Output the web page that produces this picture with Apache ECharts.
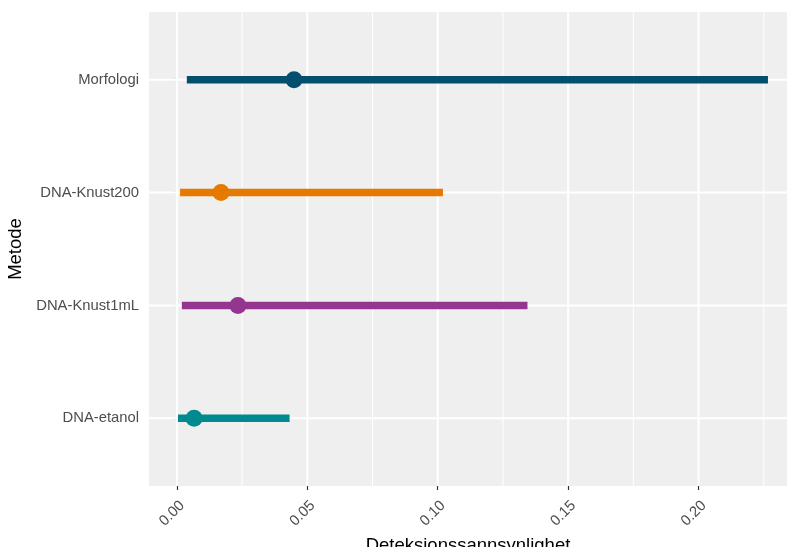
<!DOCTYPE html>
<html>
<head>
<meta charset="utf-8">
<title>Deteksjonssannsynlighet per metode</title>
<script src="https://cdn.jsdelivr.net/npm/echarts@6/dist/echarts.min.js"></script>
<style>
  html, body { margin: 0; padding: 0; background: #ffffff; }
  #chart { width: 789px; height: 547px; }
</style>
</head>
<body>
<div id="chart"></div>
<script>
// Methods, bottom to top on the y axis (positions 1..4)
const methods = ['DNA-etanol', 'DNA-Knust1mL', 'DNA-Knust200', 'Morfologi'];
// Point estimate and interval bounds of detection probability
const estimate = [0.0066, 0.0234, 0.0169, 0.0449];
const lower = [0.0004, 0.0019, 0.0012, 0.0038];
const upper = [0.0432, 0.1344, 0.1020, 0.2266];
const methodColors = ['#00898F', '#94358F', '#E67A00', '#024F70'];
// Axis ticks
const xMajor = [0, 0.05, 0.10, 0.15, 0.20];
const xMinor = [0.025, 0.075, 0.125, 0.175, 0.225];
const yTicks = [1, 2, 3, 4];

const FONT = '"Liberation Sans", Arial, Helvetica, sans-serif';

// [value, lineWidth] for the white panel grid
const vGrid = xMinor.map(v => [v, 1]).concat(xMajor.map(v => [v, 2]));
const hGrid = yTicks.map(v => [v, 2]);

const chart = echarts.init(document.getElementById('chart'), null, { renderer: 'canvas' });

function gridLineSeries(data, vertical) {
  return {
    type: 'custom',
    z: 1,
    silent: true,
    clip: true,
    encode: vertical ? { x: 0 } : { y: 0 },
    data: data,
    renderItem: function (params, api) {
      const cs = params.coordSys;
      const v = api.value(0);
      const w = api.value(1);
      let shape;
      if (vertical) {
        const x = api.coord([v, 2.5])[0];
        shape = { x1: x, y1: cs.y, x2: x, y2: cs.y + cs.height };
      } else {
        const y = api.coord([0.1, v])[1];
        shape = { x1: cs.x, y1: y, x2: cs.x + cs.width, y2: y };
      }
      return { type: 'line', shape: shape, style: { stroke: '#FFFFFF', lineWidth: w } };
    }
  };
}

chart.setOption({
  animation: false,
  backgroundColor: '#ffffff',
  textStyle: { fontFamily: FONT },
  grid: {
    left: 149, right: 2, top: 12, bottom: 61,
    outerBoundsMode: 'none',
    containLabel: false,
    show: true, backgroundColor: '#EFEFEF', borderWidth: 0
  },
  xAxis: {
    type: 'value',
    min: -0.0107,
    max: 0.2339,
    name: 'Deteksjonssannsynlighet',
    nameLocation: 'middle',
    nameGap: 46,
    nameTextStyle: { fontSize: 18.5, color: '#000000', fontFamily: FONT },
    axisLine: { show: false },
    axisTick: {
      show: true, length: 4, customValues: xMajor,
      lineStyle: { color: '#333333', width: 1.2 }
    },
    axisLabel: {
      customValues: xMajor,
      rotate: 45,
      margin: 12,
      align: 'right',
      verticalAlign: 'top',
      fontSize: 14.8,
      color: '#4D4D4D',
      fontFamily: FONT,
      formatter: v => v.toFixed(2)
    },
    splitLine: { show: false }
  },
  yAxis: {
    type: 'value',
    min: 0.4,
    max: 4.6,
    name: 'Metode',
    nameLocation: 'middle',
    nameGap: 121,
    nameTextStyle: { fontSize: 18.5, color: '#000000', fontFamily: FONT },
    axisLine: { show: false },
    axisTick: {
      show: true, length: 4, customValues: yTicks,
      lineStyle: { color: '#333333', width: 1.2 }
    },
    axisLabel: {
      customValues: yTicks,
      margin: 10,
      fontSize: 14.8,
      color: '#4D4D4D',
      fontFamily: FONT,
      formatter: v => methods[Math.round(v) - 1] || ''
    },
    splitLine: { show: false }
  },
  series: [
    gridLineSeries(vGrid, true),
    gridLineSeries(hGrid, false),
    {
      // interval bars
      type: 'custom',
      z: 2,
      silent: true,
      encode: { x: [0, 1], y: 2 },
      data: methods.map((m, i) => [lower[i], upper[i], i + 1]),
      renderItem: function (params, api) {
        const a = api.coord([api.value(0), api.value(2)]);
        const b = api.coord([api.value(1), api.value(2)]);
        return {
          type: 'line',
          shape: { x1: a[0], y1: a[1], x2: b[0], y2: b[1] },
          style: { stroke: methodColors[params.dataIndex], lineWidth: 7.5, lineCap: 'butt' }
        };
      }
    },
    {
      // point estimates
      type: 'scatter',
      z: 3,
      silent: true,
      symbol: 'circle',
      symbolSize: 17,
      data: methods.map((m, i) => ({
        value: [estimate[i], i + 1],
        itemStyle: { color: methodColors[i], opacity: 1 }
      }))
    }
  ]
});
</script>
</body>
</html>
